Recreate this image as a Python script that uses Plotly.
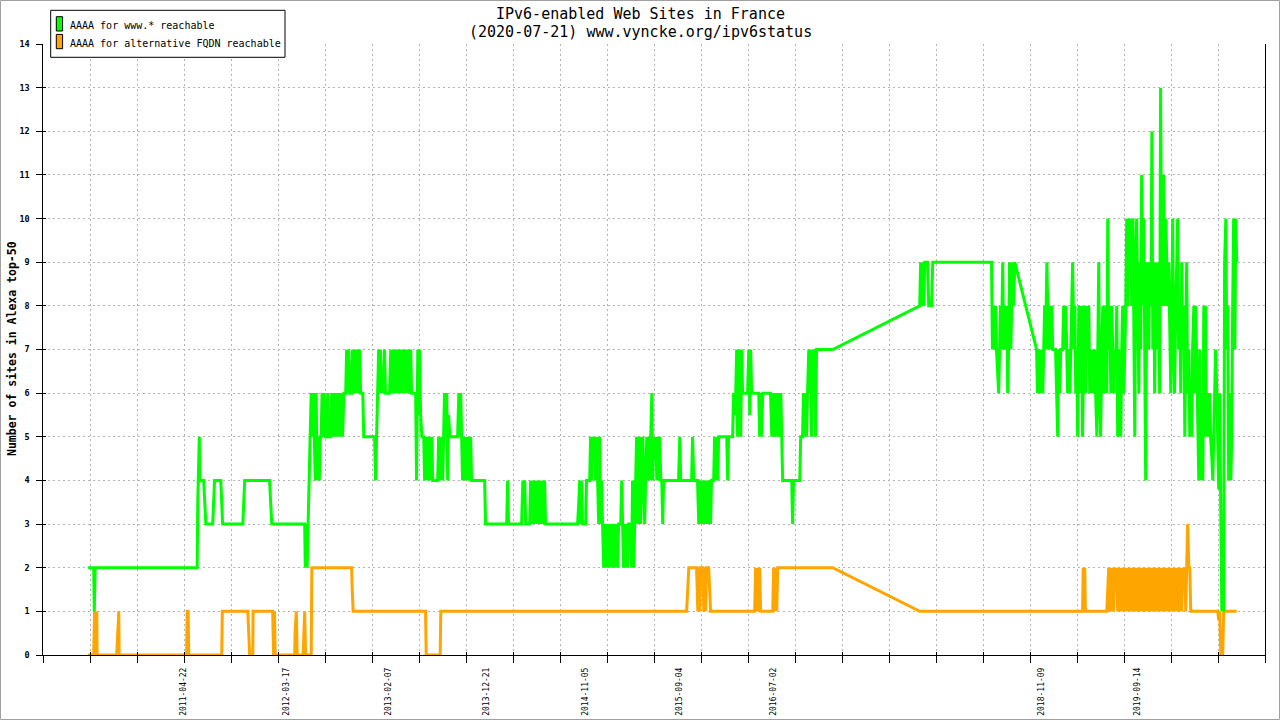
import pandas as pd
import plotly.graph_objects as go

# ---------------- data ----------------
START = "2010-01-01"          # day offsets below count from this date
X_RANGE_DAYS = [23, 3955]

green_day = [
    167, 186, 188, 191, 519, 521, 526, 527, 540, 543,
    547, 569, 572, 575, 595, 598, 601, 666, 669, 672,
    752, 756, 759, 865, 867, 869, 870, 872, 873, 876,
    880, 883, 886, 889, 892, 896, 899, 902, 905, 908,
    912, 915, 918, 921, 925, 928, 931, 936, 939, 942,
    949, 952, 955, 962, 965, 968, 971, 978, 981, 984,
    987, 991, 997, 1000, 1003, 1007, 1010, 1016, 1019, 1023,
    1029, 1032, 1036, 1039, 1042, 1045, 1052, 1055, 1090, 1093,
    1097, 1100, 1103, 1106, 1109, 1113, 1116, 1119, 1122, 1125,
    1138, 1142, 1145, 1148, 1151, 1154, 1158, 1161, 1164, 1167,
    1171, 1174, 1177, 1180, 1183, 1187, 1190, 1193, 1196, 1200,
    1203, 1206, 1209, 1222, 1225, 1227, 1229, 1232, 1235, 1238,
    1242, 1248, 1251, 1257, 1261, 1264, 1267, 1270, 1274, 1277,
    1293, 1296, 1299, 1306, 1309, 1312, 1315, 1319, 1322, 1325,
    1328, 1332, 1357, 1361, 1364, 1367, 1370, 1373, 1380, 1383,
    1386, 1389, 1393, 1396, 1399, 1402, 1444, 1447, 1515, 1518,
    1521, 1563, 1567, 1570, 1573, 1576, 1589, 1592, 1595, 1598,
    1602, 1605, 1608, 1611, 1615, 1618, 1621, 1624, 1628, 1631,
    1634, 1637, 1640, 1743, 1747, 1750, 1753, 1756, 1759, 1769,
    1772, 1782, 1785, 1788, 1792, 1795, 1798, 1801, 1804, 1808,
    1811, 1814, 1817, 1820, 1824, 1827, 1830, 1833, 1837, 1840,
    1843, 1846, 1849, 1853, 1856, 1859, 1862, 1866, 1869, 1872,
    1875, 1882, 1885, 1888, 1891, 1895, 1898, 1901, 1904, 1907,
    1914, 1917, 1920, 1924, 1927, 1930, 1933, 1937, 1940, 1943,
    1946, 1949, 1953, 1956, 1959, 1962, 1966, 1969, 1972, 1975,
    1978, 1982, 1985, 1988, 1991, 1995, 1998, 2001, 2004, 2007,
    2011, 2014, 2017, 2020, 2068, 2072, 2075, 2110, 2113, 2117,
    2129, 2133, 2136, 2139, 2142, 2146, 2149, 2152, 2155, 2158,
    2162, 2165, 2168, 2171, 2174, 2181, 2184, 2187, 2191, 2194,
    2197, 2223, 2226, 2229, 2242, 2245, 2249, 2252, 2255, 2258,
    2262, 2265, 2268, 2271, 2274, 2290, 2294, 2297, 2300, 2303,
    2326, 2329, 2332, 2335, 2339, 2364, 2368, 2371, 2374, 2377,
    2380, 2384, 2387, 2390, 2393, 2397, 2400, 2403, 2432, 2435,
    2438, 2458, 2461, 2467, 2470, 2474, 2477, 2480, 2483, 2487,
    2490, 2493, 2496, 2499, 2503, 2506, 2509, 2512, 2516, 2564,
    2844, 2847, 2850, 2853, 2857, 2860, 2863, 2869, 2873, 2882,
    2886, 3075, 3078, 3082, 3085, 3088, 3091, 3095, 3098, 3101,
    3104, 3107, 3111, 3114, 3117, 3120, 3124, 3127, 3130, 3133,
    3137, 3140, 3143, 3146, 3150, 3220, 3223, 3227, 3230, 3233,
    3236, 3240, 3243, 3246, 3249, 3253, 3256, 3259, 3262, 3266,
    3269, 3272, 3281, 3285, 3288, 3291, 3294, 3298, 3304, 3307,
    3311, 3314, 3317, 3320, 3323, 3327, 3330, 3333, 3336, 3340,
    3343, 3346, 3349, 3352, 3356, 3359, 3362, 3365, 3368, 3372,
    3375, 3378, 3381, 3385, 3388, 3391, 3394, 3398, 3401, 3404,
    3407, 3410, 3414, 3417, 3420, 3423, 3426, 3430, 3433, 3436,
    3439, 3443, 3446, 3449, 3452, 3455, 3459, 3462, 3465, 3468,
    3472, 3475, 3478, 3481, 3484, 3488, 3491, 3494, 3497, 3501,
    3504, 3507, 3510, 3513, 3517, 3520, 3523, 3526, 3530, 3533,
    3536, 3539, 3542, 3546, 3549, 3552, 3555, 3558, 3562, 3565,
    3568, 3571, 3575, 3578, 3581, 3584, 3588, 3591, 3594, 3597,
    3600, 3603, 3607, 3610, 3613, 3616, 3619, 3623, 3626, 3629,
    3632, 3636, 3639, 3642, 3645, 3649, 3652, 3655, 3658, 3661,
    3664, 3668, 3671, 3674, 3677, 3681, 3684, 3687, 3690, 3694,
    3697, 3700, 3703, 3706, 3710, 3713, 3716, 3719, 3722, 3726,
    3729, 3732, 3735, 3739, 3742, 3745, 3748, 3751, 3755, 3758,
    3761, 3764, 3767, 3771, 3774, 3777, 3780, 3784, 3787, 3790,
    3793, 3796, 3800, 3803, 3806, 3809, 3813, 3816, 3819, 3822,
    3825, 3829, 3832, 3835, 3838, 3842, 3845, 3848, 3851, 3854,
    3858, 3861, 3864,
]
green_val = [
    2, 2, 1, 2, 2, 3.5, 5, 4, 4, 3.5,
    3, 3, 3.5, 4, 4, 3.5, 3, 3, 3.5, 4,
    4, 3.5, 3, 3, 2, 3, 2, 3, 2, 3,
    4, 5, 6, 5, 6, 5, 4, 6, 4, 5,
    4, 5, 5, 6, 5, 6, 5, 5, 6, 5,
    5, 6, 5, 6, 5, 6, 5, 6, 5, 6,
    5, 6, 6, 7, 6, 7, 6, 6, 7, 6,
    7, 6, 7, 6, 7, 6, 6, 5, 5, 4,
    5, 6, 7, 6, 7, 6, 6.5, 6, 7, 6,
    6, 7, 6, 6.5, 7, 6, 7, 6, 6.5, 7,
    6, 7, 6, 6.5, 7, 6, 7, 6, 6.5, 7,
    6, 7, 6, 6, 4, 6, 7, 5.5, 7, 5.5,
    5, 5, 4, 5, 4, 5, 4, 4.5, 5, 4,
    4, 5, 4, 5, 4, 5, 6, 5, 6, 4,
    5.5, 5, 5, 6, 5, 6, 4.5, 4, 5, 4,
    5, 4, 5, 4, 5, 4, 4, 3, 3, 4,
    3, 3, 4, 3.5, 4, 3, 3, 4, 3, 4,
    3, 4, 3, 4, 3, 4, 3, 4, 3, 4,
    3, 4, 3, 3, 3.5, 4, 3, 4, 3, 3,
    4, 4, 5, 4, 5, 4.5, 5, 4, 5, 4,
    3, 5, 3, 4, 3, 2, 3, 2, 3, 2,
    3, 2, 3, 2, 3, 2, 3, 2, 3, 2,
    3, 3, 4, 3, 2, 3, 2, 3, 2, 3,
    3, 2, 4, 2, 3, 4, 5, 3, 4, 5,
    3, 4, 5, 4, 3, 4, 5, 4, 5, 4,
    5, 6, 4, 5, 4.5, 5, 4, 5, 4, 5,
    4, 4, 3, 4, 4, 5, 4, 4, 5, 4,
    4, 3, 4, 3, 3.5, 4, 3, 4, 3, 4,
    3.5, 3, 4, 3, 4, 4, 5, 4, 5, 4,
    5, 5, 4, 5, 5, 6, 5.5, 6, 7, 5,
    7, 6, 5, 7, 6, 6, 7, 5.5, 7, 6,
    6, 5, 6, 5, 6, 6, 5, 6, 5, 6,
    5, 6, 5, 6, 5, 6, 5, 4, 4, 3,
    4, 4, 5, 5, 6, 5, 6, 5, 6, 7,
    6, 7, 5, 7, 6, 7, 5, 7, 7, 7,
    8, 9, 8, 9, 8, 9, 9, 9, 8, 8,
    9, 9, 7, 8, 7, 8, 7, 6.5, 6, 7,
    8, 7, 9, 7, 8, 7, 8, 6, 7, 9,
    7, 8, 9, 8, 9, 7, 6, 7, 6, 6.5,
    7, 6, 7, 8, 7, 9, 8, 7, 8, 7,
    8, 7, 7, 6, 5, 7, 6, 7, 7, 8,
    7, 8, 7, 6, 7, 6, 7, 8, 9, 7,
    8, 6, 7, 5, 8, 7, 6, 8, 5, 7,
    8, 6, 8, 7, 8, 6, 7, 6, 7, 6,
    7, 6, 5, 7, 9, 6, 5, 7, 8, 6,
    7, 8, 6, 10, 7, 8, 6, 8, 7, 6,
    7, 6.5, 8, 5, 7, 6, 5, 7, 8, 6,
    7, 8, 10, 8, 10, 9, 10, 8, 10, 7,
    5, 9, 10, 8, 6, 9, 7, 11, 8, 10,
    6, 4, 9, 8, 7, 9, 8, 12, 7, 9,
    6, 8, 9, 7, 9, 6, 13, 8, 9, 11,
    8, 10, 9, 8, 9, 7, 6, 8, 10, 7,
    6, 8, 9, 10, 7, 8, 6, 9, 7, 8,
    5, 7, 9, 6, 7, 5, 6, 5, 7, 8,
    6, 8, 7, 5, 4, 7, 4, 6, 4, 8,
    5, 8, 5, 6, 5, 6, 5, 4.5, 4, 5,
    6, 7, 6, 5, 3.8, 6, 3, 1, 2, 1,
    9, 10, 7, 8, 4, 6, 4, 5, 8, 10,
    7, 10, 9,
]

orange_day = [
    167, 186, 189, 191, 192, 194, 196, 197, 260, 263,
    267, 268, 485, 487, 490, 492, 598, 600, 682, 685,
    688, 698, 699, 762, 765, 768, 770, 833, 834, 838,
    841, 860, 862, 865, 868, 886, 888, 1016, 1018, 1021,
    1254, 1256, 1301, 1303, 2094, 2097, 2101, 2126, 2130, 2133,
    2136, 2138, 2146, 2149, 2152, 2155, 2158, 2165, 2168, 2171,
    2313, 2316, 2319, 2323, 2326, 2329, 2332, 2371, 2374, 2377,
    2380, 2384, 2387, 2390, 2564, 2844, 3368, 3370, 3372, 3375,
    3377, 3446, 3449, 3452, 3455, 3458, 3462, 3465, 3468, 3471,
    3474, 3478, 3481, 3484, 3487, 3490, 3494, 3497, 3500, 3503,
    3507, 3510, 3513, 3516, 3520, 3523, 3526, 3529, 3532, 3536,
    3539, 3542, 3545, 3549, 3552, 3555, 3558, 3561, 3565, 3568,
    3571, 3574, 3578, 3581, 3584, 3587, 3590, 3594, 3597, 3600,
    3603, 3607, 3610, 3613, 3616, 3619, 3623, 3626, 3629, 3632,
    3636, 3639, 3642, 3645, 3648, 3652, 3655, 3658, 3661, 3665,
    3668, 3671, 3674, 3677, 3681, 3684, 3687, 3690, 3694, 3697,
    3700, 3703, 3706, 3710, 3713, 3716, 3803, 3806, 3809, 3813,
    3819, 3822, 3864,
]
orange_val = [
    0, 0, 1, 0, 1, 0.5, 1, 0, 0, 0.5,
    1, 0, 0, 1, 1, 0, 0, 1, 1, 0.5,
    0, 0, 1, 1, 0, 1, 0, 0, 0.5, 1,
    0, 0, 0.5, 1, 0, 0, 2, 2, 1.5, 1,
    1, 0, 0, 1, 1, 1.5, 2, 2, 1, 2,
    1, 2, 2, 1, 2, 1, 2, 2, 1.5, 1,
    1, 2, 1, 2, 1, 2, 1, 1, 2, 1,
    2, 1, 2, 2, 2, 1, 1, 2, 1.5, 2,
    1, 1, 1.5, 2, 1, 2, 1, 2, 1, 2,
    1.5, 2, 1, 2, 1, 2, 1, 2, 1, 2,
    1, 2, 1, 2, 1, 2, 1, 2, 1, 2,
    1, 2, 1, 2, 1, 2, 1, 2, 1, 2,
    1, 2, 1, 2, 1, 2, 1, 2, 1, 2,
    1, 2, 1, 2, 1, 2, 1, 2, 1, 2,
    1, 2, 1, 2, 1, 2, 1, 2, 1, 2,
    1, 2, 1, 2, 1, 2, 1, 2, 1.5, 2,
    1, 2, 3, 2, 2, 1, 1, 0.8, 1, 0,
    0, 1, 1,
]

label_dates = ["2011-04-22", "2012-03-17", "2013-02-07", "2013-12-21", "2014-11-05",
               "2015-09-04", "2016-07-02", "2018-11-09", "2019-09-14"]
y_ticks = list(range(0, 15))
series_names = ["AAAA for www.* reachable", "AAAA for alternative FQDN reachable"]
series_colors = ["#00ff00", "#ffa500"]
title_lines = ["IPv6-enabled Web Sites in France", "(2020-07-21) www.vyncke.org/ipv6status"]
y_title = "Number of sites in Alexa top-50"

# ---------------- geometry helpers (layout only) ----------------
K = 0.989                      # observed vertical squeeze of the page capture
W, H = 1280, 728
ML, MR = 43, 15
MT = 44 / K
MB = H - 655 / K
PW, PH = W - ML - MR, H - MT - MB
def px(x):                    # target screen x -> paper
    return (x - ML) / PW
def py(y):                    # target screen y -> paper
    return (H - MB - y / K) / PH

MONO = "DejaVu Sans Mono"
GRID = "#b4b4b4"

start = pd.Timestamp(START)
def to_dates(days):
    return [start + pd.Timedelta(days=d) for d in days]

x0 = start + pd.Timedelta(days=X_RANGE_DAYS[0])
x1 = start + pd.Timedelta(days=X_RANGE_DAYS[1])
reg_ticks = list(pd.date_range(x0, x1, periods=27))

fig = go.Figure()
fig.add_trace(go.Scatter(x=to_dates(orange_day), y=orange_val, mode="lines",
                         line=dict(color=series_colors[1], width=3), name=series_names[1],
                         showlegend=False, hoverinfo="skip"))
fig.add_trace(go.Scatter(x=to_dates(green_day), y=green_val, mode="lines",
                         line=dict(color=series_colors[0], width=3), name=series_names[0],
                         showlegend=False, hoverinfo="skip"))
# empty traces that register the overlay axes
fig.add_trace(go.Scatter(x=[x0, x1], y=[None, None], xaxis="x2", yaxis="y", mode="lines",
                         showlegend=False, hoverinfo="skip"))
fig.add_trace(go.Scatter(x=[x0, x1], y=[None, None], xaxis="x3", yaxis="y", mode="lines",
                         showlegend=False, hoverinfo="skip"))
fig.add_trace(go.Scatter(x=[x0, x1], y=[None, None], xaxis="x", yaxis="y2", mode="lines",
                         showlegend=False, hoverinfo="skip"))

xr = [x0, x1]
fig.update_layout(
    width=W, height=H, autosize=False,
    margin=dict(l=ML, r=MR, t=MT, b=MB, pad=0),
    paper_bgcolor="white", plot_bgcolor="white",
    showlegend=False,
    xaxis=dict(type="date", range=xr, tickmode="array", tickvals=reg_ticks,
               showticklabels=False, ticks="outside", ticklen=7, tickwidth=1.2,
               tickcolor="black", showgrid=True, gridcolor=GRID, griddash="2px,3px",
               gridwidth=1, showline=True, linecolor="black", linewidth=1.3,
               zeroline=False),
    xaxis2=dict(type="date", overlaying="x", anchor="y", range=xr, tickmode="array",
                tickvals=reg_ticks, ticks="inside", ticklen=3.5, tickwidth=1.2,
                tickcolor="black", showticklabels=False, showgrid=False,
                showline=False, zeroline=False),
    xaxis3=dict(type="date", overlaying="x", anchor="y", range=xr, tickmode="array",
                tickvals=label_dates, ticktext=label_dates, ticks="", tickangle=-90,
                tickfont=dict(family=MONO, size=8, color="black"),
                ticklabelstandoff=10, showgrid=False, showline=False, zeroline=False),
    yaxis=dict(range=[0, 14], tickmode="array", tickvals=y_ticks, ticks="outside",
               ticklen=5.5, tickwidth=1.2, tickcolor="black", showgrid=True,
               gridcolor=GRID, griddash="2px,3px", gridwidth=1, showline=True,
               mirror=True, linecolor="black", linewidth=1.3, zeroline=False,
               tickfont=dict(family=MONO, size=8.5, color="black", weight="bold"),
               ticklabelstandoff=5),
    yaxis2=dict(overlaying="y", anchor="x", side="left", range=[0, 14], tickmode="array",
                tickvals=y_ticks, ticks="inside", ticklen=3.4, tickwidth=1.2,
                tickcolor="black", showticklabels=False, showgrid=False,
                showline=False, zeroline=False),
)

ann = []
for i, t in enumerate(title_lines):
    ann.append(dict(text=t, x=px(640), y=py(14 + 18 * i), xref="paper", yref="paper",
                    xanchor="center", yanchor="middle", showarrow=False,
                    font=dict(family=MONO, size=15, color="black")))
ann.append(dict(text=y_title, x=px(12), y=py(349), xref="paper", yref="paper",
                xanchor="center", yanchor="middle", textangle=-90, showarrow=False,
                font=dict(family=MONO, size=11.5, color="black", weight="bold")))
shapes = [
    dict(type="rect", xref="paper", yref="paper", x0=px(50.7), x1=px(285), y0=py(57.3),
         y1=py(10.3), fillcolor="white", line=dict(color="black", width=1), layer="above"),
    dict(type="rect", xref="paper", yref="paper", x0=px(0.5), x1=px(1279.5), y0=py(719.5),
         y1=py(0.5), line=dict(color="#a0a0a0", width=1), layer="above"),
]
for i, (name, col) in enumerate(zip(series_names, series_colors)):
    top = 16.7 + 17.7 * i
    shapes.append(dict(type="rect", xref="paper", yref="paper", x0=px(56.3), x1=px(62.6),
                       y0=py(top + 14.3), y1=py(top), fillcolor=col,
                       line=dict(color="black", width=1), layer="above"))
    ann.append(dict(text=name, x=px(67.5), y=py(25.5 + 17.7 * i), xref="paper", yref="paper",
                    xanchor="left", yanchor="middle", showarrow=False,
                    font=dict(family=MONO, size=10, color="black")))
fig.update_layout(annotations=ann, shapes=shapes)

PAGE_JS = ("document.documentElement.style.margin='0';document.documentElement.style.padding='0';"
           "document.documentElement.style.overflow='hidden';"
           "document.body.style.margin='0';document.body.style.padding='0';"
           "document.body.style.overflow='hidden';")
fig.write_html("out.html", post_script=PAGE_JS, config={"displayModeBar": False})
